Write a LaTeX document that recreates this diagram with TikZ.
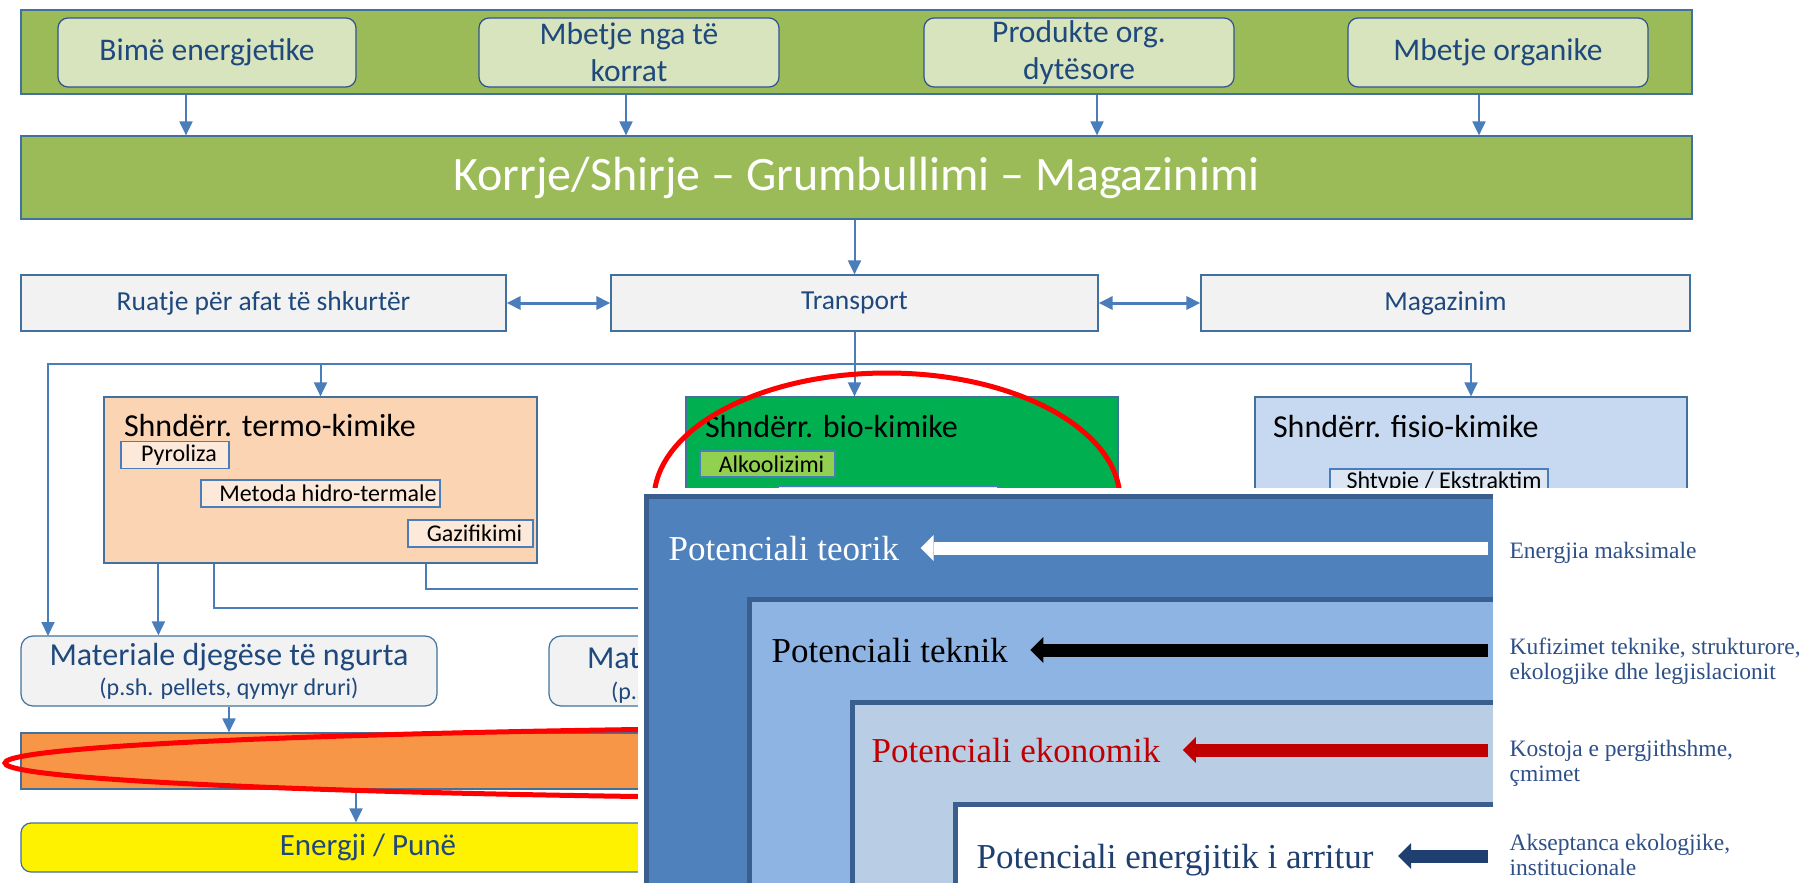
\documentclass[tikz,border=0pt]{standalone}
\usepackage{fontspec}
\setmainfont{Carlito}
\newfontfamily\potfont{Liberation Serif}
\usetikzlibrary{positioning, arrows.meta, calc}

\definecolor{bandgreen}{HTML}{9BBB59}
\definecolor{lightgreen}{HTML}{D7E4BD}
\definecolor{srcline}{HTML}{2F528F}
\definecolor{boxline}{HTML}{41719C}
\definecolor{linkblue}{HTML}{4A7EBB}
\definecolor{txtblue}{HTML}{1F497D}
\definecolor{boxgray}{HTML}{F2F2F2}
\definecolor{peach}{HTML}{FBD4B4}
\definecolor{peachlight}{HTML}{FDE9D9}
\definecolor{biogreen}{HTML}{00B050}
\definecolor{biolight}{HTML}{92D050}
\definecolor{fisioblue}{HTML}{C6D9F1}
\definecolor{fisiolight}{HTML}{DCE6F2}
\definecolor{fuelorange}{HTML}{F79646}
\definecolor{potA}{HTML}{4F81BD}
\definecolor{potB}{HTML}{8EB4E3}
\definecolor{potC}{HTML}{B9CDE5}
\definecolor{potedge}{HTML}{3A5F8F}
\definecolor{potred}{HTML}{C00000}
\definecolor{potnavy}{HTML}{1F3F70}
\definecolor{notetxt}{HTML}{2E5088}

\begin{document}
\begin{tikzpicture}[x=1pt,y=-1pt,>={Triangle[length=14pt,width=13pt]},
  every node/.style={shape=rectangle,draw=boxline,line width=1.2pt,inner sep=0pt},
  link/.style={draw=linkblue,line width=2pt},
  band/.style={fill=bandgreen,minimum width=1671pt},
  srcbox/.style={fill=lightgreen,draw=srcline,rounded corners=10pt,text=txtblue,align=center,
    minimum width=300pt,minimum height=69pt,font=\fontsize{31.5}{37}\selectfont},
  rowbox/.style={fill=boxgray,text=txtblue,minimum height=56pt,font=\fontsize{27.5}{30}\selectfont},
  convbox/.style={minimum width=433pt,minimum height=166pt},
  convtitle/.style={draw=none,anchor=base west,font=\fontsize{32}{36}\selectfont},
  subbox/.style={draw=linkblue,minimum height=27pt,font=\fontsize{24}{26}\selectfont},
  matbox/.style={fill=boxgray,rounded corners=12pt,text=txtblue,align=center,
    minimum width=416pt,minimum height=70pt,font=\fontsize{32}{31}\selectfont},
  ring/.style={draw=red,line width=5pt},
  pot/.style={draw=none,anchor=base west,text height=24pt,text depth=0pt,font=\potfont\fontsize{35}{40}\selectfont},
  potarrow/.style={line width=13pt,-{Triangle[length=13pt,width=26pt,line width=0pt]}},
  note/.style={draw=none,anchor=base west,align=left,text=notetxt,font=\potfont\fontsize{23.5}{25}\selectfont}]
\useasboundingbox (0,0) rectangle (1810,883);

% create the nodes
\node[band,minimum height=84pt] (band) at (856.5,52) {};
\node[srcbox,minimum width=298pt] (bime) at (207,52.5) {Bimë energjetike};
\node[srcbox] (mbetje) at (629,52.5) {Mbetje nga të\\korrat};
\node[srcbox,minimum width=310pt] (produkte) at (1079,52.5) {Produkte org.\\dytësore};
\node[srcbox] (organike) at (1498,52.5) {Mbetje organike};

\node[band,minimum height=83pt,text=white,font=\fontsize{48}{52}\selectfont] (korrje) at (856.5,177.5)
  {Korrje/Shirje – Grumbullimi – Magazinimi};

\node[rowbox,minimum width=485pt] (ruatje) at (263.5,303) {Ruatje për afat të shkurtër};
\node[rowbox,minimum width=487pt] (transport) at (854.5,303) {Transport};
\node[rowbox,minimum width=489pt] (magazinim) at (1445.5,303) {Magazinim};

% conversion boxes
\node[convbox,fill=peach] (termo) at (320.5,480) {};
\node[convtitle] at ($(termo.north west)+(20,40)$) {Shndërr. termo-kimike};
\node[subbox,fill=peachlight,minimum width=108pt] (pyroliza) at (175,455) {\hspace{8pt}Pyroliza};
\node[subbox,fill=peachlight,minimum width=239pt] (metoda) at (320.5,493.5) {\hspace{15pt}Metoda hidro-termale};
\node[subbox,fill=peachlight,minimum width=125pt] (gazifikimi) at (470.5,533.5) {\hspace{8pt}Gazifikimi};

\node[convbox,fill=biogreen,minimum width=432pt] (bio) at (902,480) {};
\node[convtitle] at ($(bio.north west)+(19,41)$) {Shndërr. bio-kimike};
\node[subbox,fill=biolight,minimum width=135pt,minimum height=26pt] (alkool) at (767.5,464) {\hspace{8pt}Alkoolizimi};
\node[subbox,fill=biolight!35!white,minimum width=220pt] (biosub) at (888,500) {};

\node[convbox,fill=fisioblue,minimum width=432pt] (fisio) at (1471,480) {};
\node[convtitle] at ($(fisio.north west)+(18,41)$) {Shndërr. fisio-kimike};
\node[subbox,fill=fisiolight,minimum width=218pt] (shtypje) at (1439,482.5) {\hspace{10pt}Shtypje / Ekstraktim};

% products
\node[matbox] (materiale1) at (229,671) {Materiale djegëse të ngurta\\[-1pt]{\fontsize{24}{28}\selectfont (p.sh. pellets, qymyr druri)}};
\node[matbox] (materiale2) at (757,671) {};
\node[draw=none,anchor=base west,text=txtblue,font=\fontsize{32}{31}\selectfont] at ($(materiale2.west)+(38,-3)$) {Mat};
\node[draw=none,anchor=base west,text=txtblue,font=\fontsize{24}{28}\selectfont] at ($(materiale2.west)+(62,28)$) {(p.s};
\node[fill=fuelorange,minimum width=694pt,minimum height=56pt] (fuel) at (368,761) {};
\node[fill=yellow,rounded corners=10pt,text=txtblue,minimum width=694pt,minimum height=49pt,
  font=\fontsize{31}{34}\selectfont] (energji) at (368,847.5) {Energji / Punë};

\coordinate (split) at (854.5,364);
\coordinate (m1in) at (48,636);
\coordinate (liq1) at (760,608);
\coordinate (liq2) at (760,589);

% connectors
\foreach \n/\dx in {bime/-21,mbetje/-3,produkte/18,organike/-19}
  \draw[link,->] ([xshift=\dx pt]\n.south |- band.south) -- ([xshift=\dx pt]\n.south |- korrje.north);
\draw[link,->] (transport.north |- korrje.south) -- (transport.north);
\draw[link,line width=3pt,<->] (ruatje) -- (transport);
\draw[link,line width=3pt,<->] (transport) -- (magazinim);
\draw[link,->] (transport.south) -- (split |- bio.north);
\draw[link,->] (split) -| (termo.north);
\draw[link,->] (split) -| (fisio.north);
\draw[link,->] (split) -| (m1in);
\draw[link,->] ([xshift=55pt]termo.south west) -- ([xshift=55pt]termo.south west |- materiale1.north);
\draw[link] ([xshift=111pt]termo.south west) |- (liq1);
\draw[link] ([xshift=323pt]termo.south west) |- (liq2);
\draw[link,->] (materiale1.south) -- (materiale1.south |- fuel.north);
\draw[link,->] ([xshift=-12pt]fuel.south) -- ([xshift=-12pt]energji.north);

% red rings
\draw[ring] (887,500) ellipse [x radius=233pt,y radius=127pt];
\draw[ring] (1005,763) ellipse [x radius=1000pt,y radius=36pt];

% potentials panel on top
\fill[white] (638,488) rectangle (1810,883);
\fill[potA] (644,494) rectangle (1493,883);
\draw[potedge,line width=5pt] (646.5,883) -- (646.5,496.5) -- (1493,496.5);
\fill[potB] (747,597) rectangle (1493,883);
\draw[potedge,line width=5pt] (749.5,883) -- (749.5,599.5) -- (1493,599.5);
\fill[potC] (850,700) rectangle (1493,883);
\draw[potedge,line width=5pt] (852.5,883) -- (852.5,702.5) -- (1493,702.5);
\fill[white] (953,802) rectangle (1493,883);
\draw[potedge,line width=5pt] (955.5,883) -- (955.5,804.5) -- (1493,804.5);
\coordinate (edge) at (1488,0);

\node[pot,text=white] (teorik) at (668,560) {Potenciali teorik};
\node[pot,text=black] (teknik) at (771,662) {Potenciali teknik};
\node[pot,text=potred] (ekonomik) at (871,762) {Potenciali ekonomik};
\node[pot,text=potnavy] (arritur) at (976,868) {Potenciali energjitik i arritur};

\draw[potarrow,white] (teorik -| edge) -- ([xshift=21pt]teorik.east);
\draw[potarrow,black] (teknik -| edge) -- ([xshift=22pt]teknik.east);
\draw[potarrow,potred] (ekonomik -| edge) -- ([xshift=22pt]ekonomik.east);
\draw[potarrow,potnavy] (arritur -| edge) -- ([xshift=24pt]arritur.east);

% side notes (base = last line)
\node[note] at (1509,558) {Energjia maksimale};
\node[note] at (1509,679) {Kufizimet teknike, strukturore,\\ekologjike dhe legjislacionit};
\node[note] at (1509,781) {Kostoja e pergjithshme,\\çmimet};
\node[note] at (1509,875) {Akseptanca ekologjike,\\institucionale};
\end{tikzpicture}
\end{document}
